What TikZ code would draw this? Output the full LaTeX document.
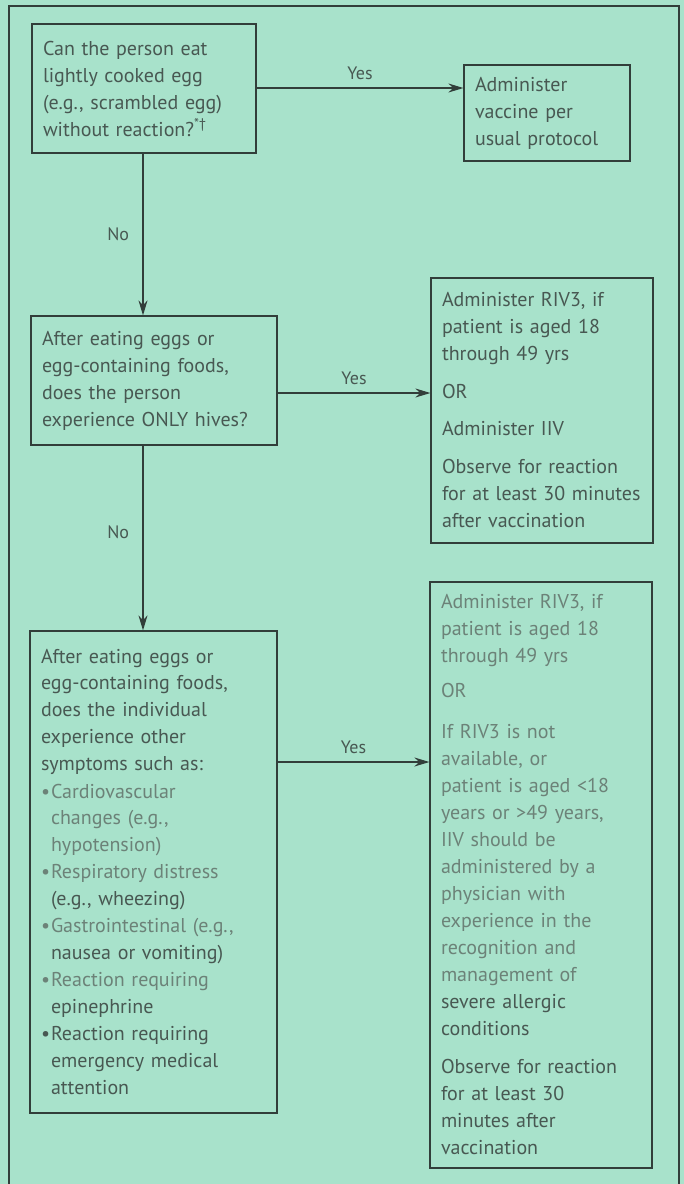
\documentclass[tikz,border=0pt]{standalone}
\usepackage{fontspec}
\setmainfont{PT Sans}
\usetikzlibrary{arrows.meta}

\definecolor{mint}{RGB}{168,226,203}
\definecolor{inkline}{RGB}{50,62,58}
\definecolor{inktext}{RGB}{72,88,82}
\definecolor{inkfade}{RGB}{108,130,120}

\begin{document}
\begin{tikzpicture}[
    x=1pt, y=-1pt,
    box/.style={
        rectangle,
        draw=inkline,
        line width=1.2pt,
        inner xsep=11pt,
        inner ysep=0pt,
        align=left,
        text=inktext,
        font=\fontsize{20}{27}\selectfont
    },
    flow/.style={
        -{Stealth[length=15pt,width=9pt]},
        draw=inkline,
        line width=1.2pt
    },
    tag/.style={
        text=inktext,
        font=\fontsize{18}{20}\selectfont
    }
]

% Page and frame
\fill[mint] (0,0) rectangle (684,1184);
\useasboundingbox (0,0) rectangle (684,1184);
\draw[inkline, line width=1.2pt] (9,1190) -- (9,6) -- (679,6) -- (679,1190);

% Questions
\node[box, text width=202pt, minimum width=224pt, minimum height=129pt] (eggok) at (144,88.5)
    {Can the person eat\\lightly cooked egg\\(e.g., scrambled egg)\\without reaction?\textsuperscript{*†}};
\node[box, text width=224pt, minimum width=246pt, minimum height=129pt] (hives) at (154,380.5)
    {After eating eggs or\\egg-containing foods,\\does the person\\experience ONLY hives?};
\node[box, text width=225pt, minimum width=247pt, minimum height=482pt] (other) at (153.5,872)
    {After eating eggs or\\egg-containing foods,\\does the individual\\experience other\\symptoms such as:\\
     {\color{inkfade}\makebox[10pt][l]{•}Cardiovascular}\\
     {\color{inkfade}\hspace*{10pt}changes (e.g.,}\\
     {\color{inkfade}\hspace*{10pt}hypotension)}\\
     {\color{inkfade}\makebox[10pt][l]{•}Respiratory distress}\\
     \hspace*{10pt}(e.g., wheezing)\\
     {\color{inkfade}\makebox[10pt][l]{•}Gastrointestinal (e.g.,}\\
     \hspace*{10pt}nausea or vomiting)\\
     {\color{inkfade}\makebox[10pt][l]{•}Reaction requiring}\\
     \hspace*{10pt}epinephrine\\
     \makebox[10pt][l]{•}Reaction requiring\\
     \hspace*{10pt}emergency medical\\
     \hspace*{10pt}attention};

% Answers
\node[box, text width=144pt, minimum width=166pt, minimum height=96pt] (usual) at (547,113)
    {Administer\\vaccine per\\usual protocol};
\node[box, text width=200pt, minimum width=222pt, minimum height=265pt] (rivonly) at (542,410.5)
    {Administer RIV3, if\\patient is aged 18\\through 49 yrs\\[11pt]
     OR\\[10pt]
     Administer IIV\\[11pt]
     Observe for reaction\\for at least 30 minutes\\after vaccination};
\node[box, text width=200pt, minimum width=222pt, minimum height=586pt] (physician) at (541,875)
    {{\color{inkfade}Administer RIV3, if}\\{\color{inkfade}patient is aged 18}\\{\color{inkfade}through 49 yrs}\\[8pt]
     {\color{inkfade}OR}\\[14pt]
     {\color{inkfade}If RIV3 is not}\\{\color{inkfade}available, or}\\{\color{inkfade}patient is aged <18}\\
     {\color{inkfade}years or >49 years,}\\{\color{inkfade}IIV should be}\\{\color{inkfade}administered by a}\\
     {\color{inkfade}physician with}\\{\color{inkfade}experience in the}\\{\color{inkfade}recognition and}\\
     {\color{inkfade}management of}\\severe allergic\\conditions\\[11pt]
     Observe for reaction\\for at least 30\\minutes after\\vaccination};

% Yes branches
\draw[flow] (eggok.east |- 0,88) -- node[tag, above=4pt] {Yes} (usual.west |- 0,88);
\draw[flow] (hives.east |- 0,393) -- node[tag, above=4pt] {Yes} (rivonly.west |- 0,393);
\draw[flow] (other.east |- 0,762) -- node[tag, above=4pt] {Yes} (physician.west |- 0,762);

% No branches
\draw[flow] (eggok.south -| 143,0) -- node[tag, left=10pt] {No} (hives.north -| 143,0);
\draw[flow] (hives.south -| 143,0) -- node[tag, left=10pt, pos=0.47] {No} (other.north -| 143,0);

\end{tikzpicture}
\end{document}
